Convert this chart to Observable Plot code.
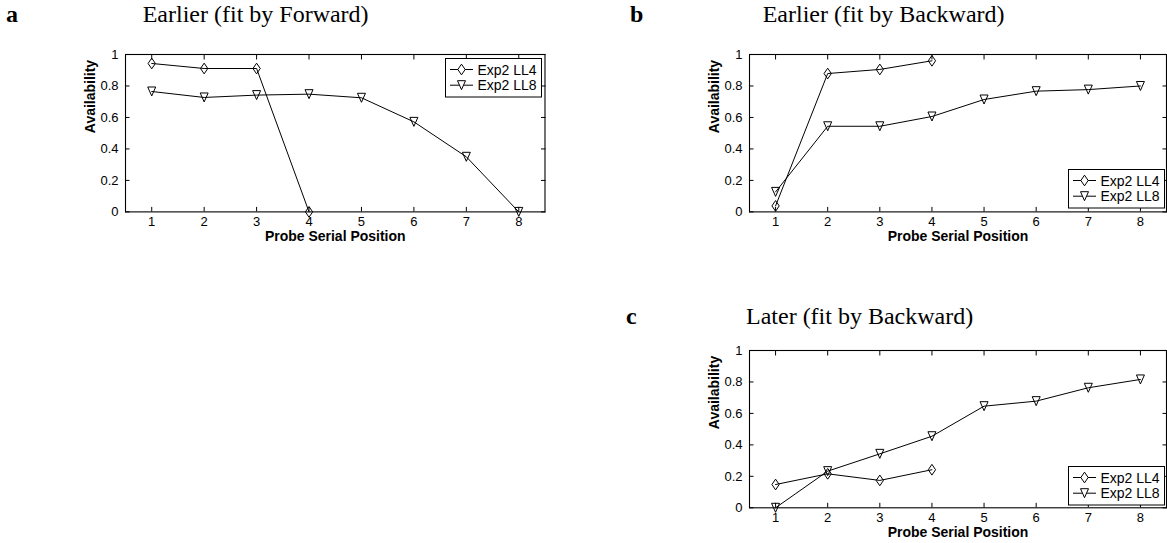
<!DOCTYPE html>
<html>
<head>
<meta charset="utf-8">
<script src="https://cdn.jsdelivr.net/npm/d3@7"></script>
<script src="https://cdn.jsdelivr.net/npm/@observablehq/plot@0.6"></script>
<style>
  html, body { margin: 0; padding: 0; background: #fff; overflow: hidden; }
  #figure { position: relative; width: 1167px; height: 543px; overflow: hidden; }
  #figure > svg, #figure > .panel { position: absolute; }
  .legend { position: absolute; }
</style>
</head>
<body>
<div id="figure"></div>
<script>
// Probe serial positions and axis ticks
const positions = [1, 2, 3, 4, 5, 6, 7, 8];
const xTicks = [1, 2, 3, 4, 5, 6, 7, 8];
const yTicks = [0, 0.2, 0.4, 0.6, 0.8, 1];
const yTickLabels = ["0", "0.2", "0.4", "0.6", "0.8", "1"];
const seriesNames = ["Exp2 LL4", "Exp2 LL8"];
const xLabel = "Probe Serial Position";
const yLabel = "Availability";

// a: Earlier (fit by Forward)
const earlierForwardLL4 = [0.943, 0.911, 0.911, 0.0];
const earlierForwardLL8 = [0.765, 0.727, 0.742, 0.748, 0.725, 0.572, 0.35, 0.0];
// b: Earlier (fit by Backward)
const earlierBackwardLL4 = [0.038, 0.879, 0.905, 0.96];
const earlierBackwardLL8 = [0.127, 0.544, 0.544, 0.606, 0.714, 0.767, 0.777, 0.80];
// c: Later (fit by Backward)
const laterBackwardLL4 = [0.148, 0.216, 0.174, 0.242];
const laterBackwardLL8 = [0.0, 0.233, 0.343, 0.455, 0.646, 0.678, 0.763, 0.816];

const panelLetters = ["a", "b", "c"];
const panelTitles = ["Earlier (fit by Forward)", "Earlier (fit by Backward)", "Later (fit by Backward)"];

// Open marker shapes (size = r² · π)
const diamondShape = {
  draw(ctx, size) {
    const s = Math.sqrt(size / Math.PI);
    const w = 0.73 * s, h = 1.07 * s;
    ctx.moveTo(0, -h); ctx.lineTo(w, 0); ctx.lineTo(0, h); ctx.lineTo(-w, 0); ctx.closePath();
  }
};
const triangleDownShape = {
  draw(ctx, size) {
    const s = Math.sqrt(size / Math.PI);
    const w = 0.8 * s, h = 0.9 * s;
    ctx.moveTo(-w, -h); ctx.lineTo(w, -h); ctx.lineTo(0, h); ctx.closePath();
  }
};

const ML = 70, MT = 10, MB = 40, TICK = 4.5;

function rows(values) {
  return values.map((v, i) => ({pos: positions[i], value: v}));
}

function panel(ll4, ll8, frameW, frameH, marginRight) {
  const a = rows(ll4), b = rows(ll8);
  const tickOnly = () => "";
  return Plot.plot({
    width: ML + frameW + marginRight,
    height: MT + frameH + MB,
    marginLeft: ML, marginRight, marginTop: MT, marginBottom: MB,
    x: {domain: [0.5, 8.5]},
    y: {domain: [0, 1]},
    style: {fontFamily: "'Liberation Sans', Arial, sans-serif", fontSize: "13px", color: "black", background: "transparent", overflow: "visible"},
    marks: [
      Plot.frame({stroke: "black", strokeWidth: 1.1}),
      Plot.axisX({anchor: "bottom", ticks: xTicks, tickSize: 0, tickPadding: 5, tickFormat: d => String(d), label: null}),
      Plot.axisX({anchor: "bottom", ticks: xTicks, tickSize: TICK, dy: -TICK, tickFormat: tickOnly, label: null}),
      Plot.axisX({anchor: "top", ticks: xTicks, tickSize: TICK, dy: TICK, tickFormat: tickOnly, label: null}),
      Plot.axisY({anchor: "left", ticks: yTicks, tickSize: 0, tickPadding: 7, tickFormat: d => yTickLabels[yTicks.indexOf(d)], label: null}),
      Plot.axisY({anchor: "left", ticks: yTicks, tickSize: TICK, dx: TICK, tickFormat: tickOnly, label: null}),
      Plot.axisY({anchor: "right", ticks: yTicks, tickSize: TICK, dx: -TICK, tickFormat: tickOnly, label: null}),
      Plot.line(a, {x: "pos", y: "value", stroke: "black", strokeWidth: 1}),
      Plot.line(b, {x: "pos", y: "value", stroke: "black", strokeWidth: 1}),
      Plot.dot(a, {x: "pos", y: "value", symbol: diamondShape, r: 5, stroke: "black", strokeWidth: 1, fill: "none"}),
      Plot.dot(b, {x: "pos", y: "value", symbol: triangleDownShape, r: 5, stroke: "black", strokeWidth: 1, fill: "none"}),
      Plot.text([xLabel], {frameAnchor: "bottom", dy: 19, lineAnchor: "top", text: d => d, fontWeight: "bold", fontSize: 14}),
      Plot.text([yLabel], {frameAnchor: "left", dx: -34.5, rotate: -90, text: d => d, fontWeight: "bold", fontSize: 14})
    ]
  });
}

const fig = document.getElementById("figure");

const panels = [
  {ll4: earlierForwardLL4, ll8: earlierForwardLL8, left: 124.5, top: 54.3, w: 419.5, h: 157.4, mr: 8, legend: [445, 57.5]},
  {ll4: earlierBackwardLL4, ll8: earlierBackwardLL8, left: 749, top: 54.3, w: 417, h: 157.4, mr: 1, legend: [1067.5, 169]},
  {ll4: laterBackwardLL4, ll8: laterBackwardLL8, left: 749, top: 350, w: 417, h: 157.3, mr: 1, legend: [1067.5, 465.5]}
];

for (const p of panels) {
  const svg = panel(p.ll4, p.ll8, p.w, p.h, p.mr);
  svg.style.left = (p.left - ML) + "px";
  svg.style.top = (p.top - MT) + "px";
  svg.style.position = "absolute";
  fig.appendChild(svg);

  // boxed legend in the axes corner
  const lg = document.createElementNS("http://www.w3.org/2000/svg", "svg");
  lg.setAttribute("class", "legend");
  lg.setAttribute("width", 97);
  lg.setAttribute("height", 40);
  lg.style.left = p.legend[0] + "px";
  lg.style.top = p.legend[1] + "px";
  const shapes = ["M0,-5.35L3.65,0L0,5.35L-3.65,0Z", "M-4,-4.5L4,-4.5L0,4.5Z"];
  let inner = `<rect x="0.5" y="0.5" width="96" height="38.5" fill="white" stroke="black" stroke-width="1"/>`;
  seriesNames.forEach((name, i) => {
    const cy = 11.5 + i * 15.7;
    inner += `<line x1="5" x2="28" y1="${cy}" y2="${cy}" stroke="black"/>`;
    inner += `<path d="${shapes[i]}" transform="translate(16.5,${cy})" fill="white" stroke="black"/>`;
    inner += `<text x="32.5" y="${cy}" dy="0.36em" font-family="'Liberation Sans', Arial, sans-serif" font-size="14">${name}</text>`;
  });
  lg.innerHTML = inner;
  fig.appendChild(lg);
}

// panel letters and titles
const titles = document.createElementNS("http://www.w3.org/2000/svg", "svg");
titles.setAttribute("width", 1167);
titles.setAttribute("height", 543);
titles.style.left = "0px";
titles.style.top = "0px";
titles.style.pointerEvents = "none";
const titlePos = [[6, 142.7, 21.5], [630, 762.7, 21.5], [626, 746, 323.5]];
titles.innerHTML = titlePos.map(([lx, tx, by], i) =>
  `<text x="${lx}" y="${by}" font-family="'Liberation Serif', 'Times New Roman', serif" font-size="24" font-weight="bold">${panelLetters[i]}</text>` +
  `<text x="${tx}" y="${by}" font-family="'Liberation Serif', 'Times New Roman', serif" font-size="24">${panelTitles[i]}</text>`
).join("");
fig.appendChild(titles);
</script>
</body>
</html>
